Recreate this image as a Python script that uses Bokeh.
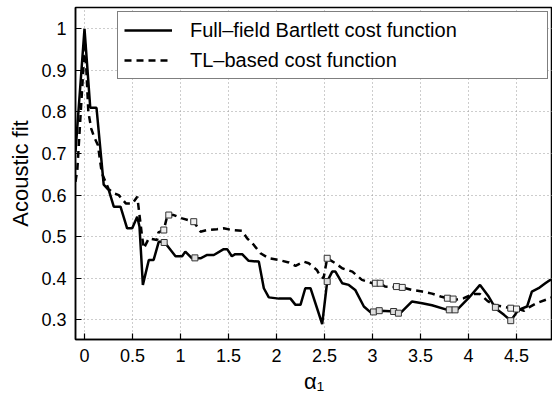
from bokeh.plotting import figure
from bokeh.models import Range1d, FixedTicker, Legend, LegendItem
from bokeh.embed import file_html
from bokeh.resources import INLINE

# ---- data ----
bartlett_x = [-0.094, 0.0, 0.06, 0.125, 0.2, 0.253, 0.305, 0.375, 0.444, 0.497, 0.549, 0.573,
              0.608, 0.67, 0.72, 0.774, 0.83, 0.948, 1.017, 1.05, 1.12, 1.208, 1.278, 1.347,
              1.45, 1.486, 1.535, 1.57, 1.642, 1.71, 1.816, 1.868, 1.92, 2.024, 2.146, 2.198,
              2.25, 2.3, 2.354, 2.476, 2.528, 2.58, 2.614, 2.684, 2.753, 2.82, 2.91, 2.98,
              3.08, 3.24, 3.29, 3.41, 3.517, 3.62, 3.78, 3.88, 4.0, 4.12, 4.21, 4.28, 4.37,
              4.44, 4.52, 4.61, 4.66, 4.73, 4.80, 4.85, 4.88]
bartlett_y = [0.704, 1.0, 0.81, 0.81, 0.625, 0.612, 0.572, 0.572, 0.52, 0.52, 0.548, 0.524,
              0.384, 0.444, 0.444, 0.488, 0.488, 0.453, 0.453, 0.464, 0.448, 0.448, 0.456, 0.456,
              0.47, 0.47, 0.453, 0.458, 0.458, 0.442, 0.44, 0.376, 0.354, 0.351, 0.351, 0.336,
              0.336, 0.376, 0.376, 0.29, 0.392, 0.416, 0.416, 0.388, 0.384, 0.372, 0.332, 0.318,
              0.322, 0.32, 0.316, 0.344, 0.34, 0.335, 0.324, 0.324, 0.352, 0.384, 0.356, 0.328, 0.312,
              0.298, 0.324, 0.332, 0.368, 0.376, 0.388, 0.396, 0.396]

tl_x = [-0.094, -0.075, 0.005, 0.04, 0.07, 0.1, 0.14, 0.18, 0.25, 0.3, 0.357, 0.43, 0.5, 0.55,
        0.6, 0.618, 0.67, 0.757, 0.77, 0.826, 0.86, 0.878, 0.93, 1.017, 1.138, 1.208, 1.278,
        1.38, 1.45, 1.535, 1.642, 1.694, 1.764, 1.833, 1.92, 2.024, 2.128, 2.198, 2.284, 2.336,
        2.42, 2.458, 2.49, 2.528, 2.614, 2.684, 2.79, 2.89, 3.0, 3.08, 3.13, 3.31, 3.41, 3.517,
        3.62, 3.71, 3.78, 3.86, 3.95, 4.05, 4.12, 4.2, 4.28, 4.35, 4.44, 4.52, 4.58, 4.63, 4.71,
        4.85, 4.88]
tl_y = [0.632, 0.66, 0.97, 0.80, 0.76, 0.74, 0.72, 0.653, 0.615, 0.605, 0.6, 0.58, 0.58, 0.596,
        0.5, 0.472, 0.496, 0.492, 0.51, 0.516, 0.548, 0.552, 0.552, 0.544, 0.536, 0.512, 0.516,
        0.518, 0.52, 0.516, 0.514, 0.496, 0.48, 0.46, 0.448, 0.444, 0.438, 0.43, 0.44, 0.436,
        0.42, 0.404, 0.40, 0.448, 0.436, 0.424, 0.416, 0.396, 0.388, 0.388, 0.38, 0.378, 0.372, 0.368,
        0.363, 0.356, 0.352, 0.348, 0.352, 0.362, 0.362, 0.345, 0.335, 0.332, 0.328, 0.326, 0.322, 0.33, 0.34,
        0.352, 0.355]

bartlett_mark_x = [0.83, 1.15, 2.528, 3.01, 3.07, 3.22, 3.27, 3.80, 3.86, 4.28, 4.44]
bartlett_mark_y = [0.486, 0.449, 0.392, 0.319, 0.322, 0.32, 0.316, 0.324, 0.324, 0.33, 0.298]
tl_mark_x = [0.826, 0.878, 1.138, 2.528, 3.03, 3.08, 3.25, 3.31, 3.78, 3.84, 4.44, 4.5]
tl_mark_y = [0.516, 0.552, 0.536, 0.448, 0.388, 0.388, 0.38, 0.378, 0.352, 0.35, 0.328, 0.326]

x_ticks = [0, 0.5, 1, 1.5, 2, 2.5, 3, 3.5, 4, 4.5]
x_tick_labels = ["0", "0.5", "1", "1.5", "2", "2.5", "3", "3.5", "4", "4.5"]
y_ticks = [0.3, 0.4, 0.5, 0.6, 0.7, 0.8, 0.9, 1.0]
y_tick_labels = ["0.3", "0.4", "0.5", "0.6", "0.7", "0.8", "0.9", "1"]

FONT = "Liberation Sans"

p = figure(width=552, height=401, x_range=Range1d(-0.09375, 4.875), y_range=Range1d(0.2527, 1.0511),
           output_backend="svg", toolbar_location=None,
           min_border_left=75, min_border_right=0, min_border_top=7, min_border_bottom=62)
p.background_fill_color = "white"
p.border_fill_color = "white"
p.outline_line_color = "black"
p.outline_line_width = 1.5

def style_axis(ax, ticks, labels):
    ax.ticker = FixedTicker(ticks=ticks)
    ax.major_label_overrides = {t: l for t, l in zip(ticks, labels)}
    ax.major_tick_in = 6
    ax.major_tick_out = 0
    ax.minor_tick_in = 0
    ax.minor_tick_out = 0
    ax.axis_line_color = "black"
    ax.axis_line_width = 1.5
    ax.major_tick_line_color = "black"
    ax.major_tick_line_width = 1.2
    ax.major_label_text_font = FONT
    ax.major_label_text_font_size = "18px"
    ax.major_label_text_color = "black"
    ax.major_label_standoff = 9
    ax.axis_label_text_font = FONT
    ax.axis_label_text_font_size = "22px"
    ax.axis_label_text_font_style = "normal"
    ax.axis_label_text_color = "black"

style_axis(p.xaxis[0], x_ticks, x_tick_labels)
style_axis(p.yaxis[0], y_ticks, y_tick_labels)
p.xaxis[0].axis_label = "α₁"
p.yaxis[0].axis_label = "Acoustic fit"
p.xaxis[0].axis_label_standoff = 4
p.yaxis[0].axis_label_standoff = 5

for g in (p.xgrid[0], p.ygrid[0]):
    g.grid_line_color = "#9a9a9a"
    g.grid_line_dash = "1 3"
    g.grid_line_width = 1
p.xgrid[0].ticker = FixedTicker(ticks=x_ticks)
p.ygrid[0].ticker = FixedTicker(ticks=y_ticks)

r1 = p.line(bartlett_x, bartlett_y, line_color="black", line_width=2.5)
r2 = p.line(tl_x, tl_y, line_color="black", line_width=2.5, line_dash="7 5")
p.scatter(bartlett_mark_x, bartlett_mark_y, marker="square", size=6, line_color="#333333",
          fill_color="#dddddd", line_width=1)
p.scatter(tl_mark_x, tl_mark_y, marker="square", size=6, line_color="#333333",
          fill_color="#f0f0f0", line_width=1)

legend = Legend(items=[LegendItem(label="Full–field Bartlett cost function", renderers=[r1]),
                       LegendItem(label="TL–based cost function", renderers=[r2])],
                location="top_right", margin=4, padding=6, spacing=6,
                label_height=24, glyph_height=24, glyph_width=48, label_width=351,
                label_standoff=18, label_text_font=FONT, label_text_font_size="20px",
                label_text_color="black",
                border_line_color="black", border_line_width=1.2,
                background_fill_color="white", background_fill_alpha=1)
p.add_layout(legend)

open("out.html", "w").write(file_html(p, INLINE))
